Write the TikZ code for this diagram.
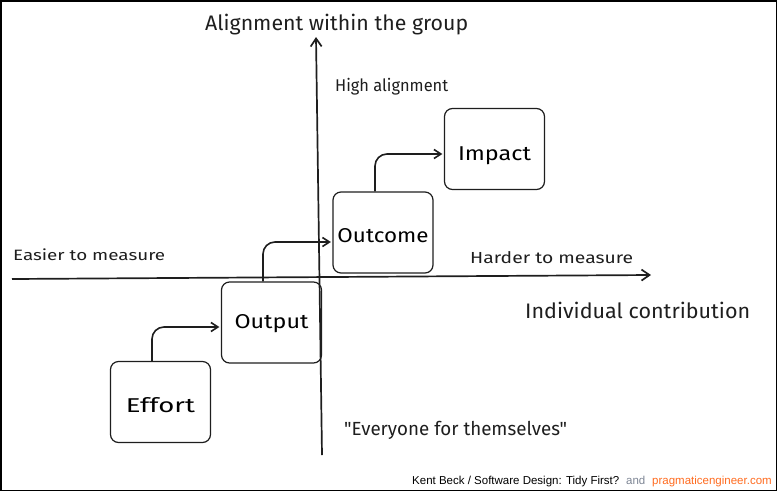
\documentclass[tikz,border=0pt]{standalone}
\usepackage{fontspec}
\setmainfont{Fira Sans}[Ligatures=TeXOff]
\newfontfamily\creditfont{Liberation Sans}
\usetikzlibrary{arrows.meta}
\definecolor{pe}{HTML}{FF6B1F}
\definecolor{andgray}{HTML}{7D8594}
\definecolor{ink}{HTML}{1E1E1E}
\newcommand\fitw[2]{\resizebox{#1pt}{\height}{#2}}
\begin{document}
\begin{tikzpicture}[x=1pt,y=-1pt,
  box/.style={draw=ink, line width=1.2pt, rounded corners=8pt, minimum width=100pt, minimum height=81pt, font=\fontsize{20}{24}\selectfont, inner sep=0pt, text height=20pt, text depth=0pt},
  axis/.style={draw=ink, line width=1.7pt, -{Straight Barb[length=8pt,width=11pt]}},
  flow/.style={draw=ink, line width=1.6pt, rounded corners=12pt, shorten >=1.5pt, -{Straight Barb[length=7pt,width=9pt]}},
  lbl/.style={anchor=base west, inner sep=0pt, text=ink},
  credit/.style={anchor=base west, inner sep=0pt, font=\creditfont\fontsize{11.5}{13}\selectfont}]
\useasboundingbox (0,0) rectangle (777,491);
\draw[line width=1.5pt] (0.75,0.75) rectangle (776.25,490.25);
% axes
\coordinate (vb) at (322,455);
\coordinate (vt) at (316,37);
\draw[axis] (vb) -- (vt);
\coordinate (hl) at (12,279);
\coordinate (hr) at (651,275);
\draw[axis] (hl) -- (hr);
% boxes
\node[box] (effort) at (160.5,402) {\fitw{69}{Effort}};
\node[box, text height=12pt] (output) at (271.5,322.5) {\fitw{74}{Output}};
\node[box, text height=19pt] (outcome) at (383,232.5) {\fitw{91}{Outcome}};
\node[box, text height=22pt] (impact) at (494.5,149) {\fitw{73}{Impact}};
% flows
\draw[flow] ([xshift=-8.5pt]effort.north) |- ([yshift=-4.5pt]output.west);
\draw[flow] ([xshift=-8.5pt]output.north) |- ([yshift=-9.5pt]outcome.west);
\draw[flow] ([xshift=-8pt]outcome.north) |- ([yshift=-5pt]impact.west);
% labels
\node[lbl, font=\fontsize{21}{24}\selectfont] (title) at (205,30) {\fitw{263}{Alignment within the group}};
\node[lbl, font=\fontsize{17}{20}\selectfont] (high) at (335,91) {\fitw{113}{High alignment}};
\node[lbl, font=\fontsize{15}{18}\selectfont] (easier) at (13,260) {\fitw{152}{Easier to measure}};
\node[lbl, font=\fontsize{16}{19}\selectfont] (harder) at (470,263) {\fitw{163}{Harder to measure}};
\node[lbl, font=\fontsize{21}{24}\selectfont] (indiv) at (525,318) {\fitw{225}{Individual contribution}};
\node[lbl, font=\fontsize{19}{22}\selectfont] (every) at (344,435) {\fitw{223}{"Everyone for themselves"}};
% credit
\node[credit] (cr1) at (412,484) {Kent Beck / Software Design: Tidy First?};
\node[credit, text=andgray] (cr2) at (626,484) {and};
\node[credit, text=pe] (cr3) at (652,484) {pragmaticengineer.com};
\end{tikzpicture}
\end{document}
